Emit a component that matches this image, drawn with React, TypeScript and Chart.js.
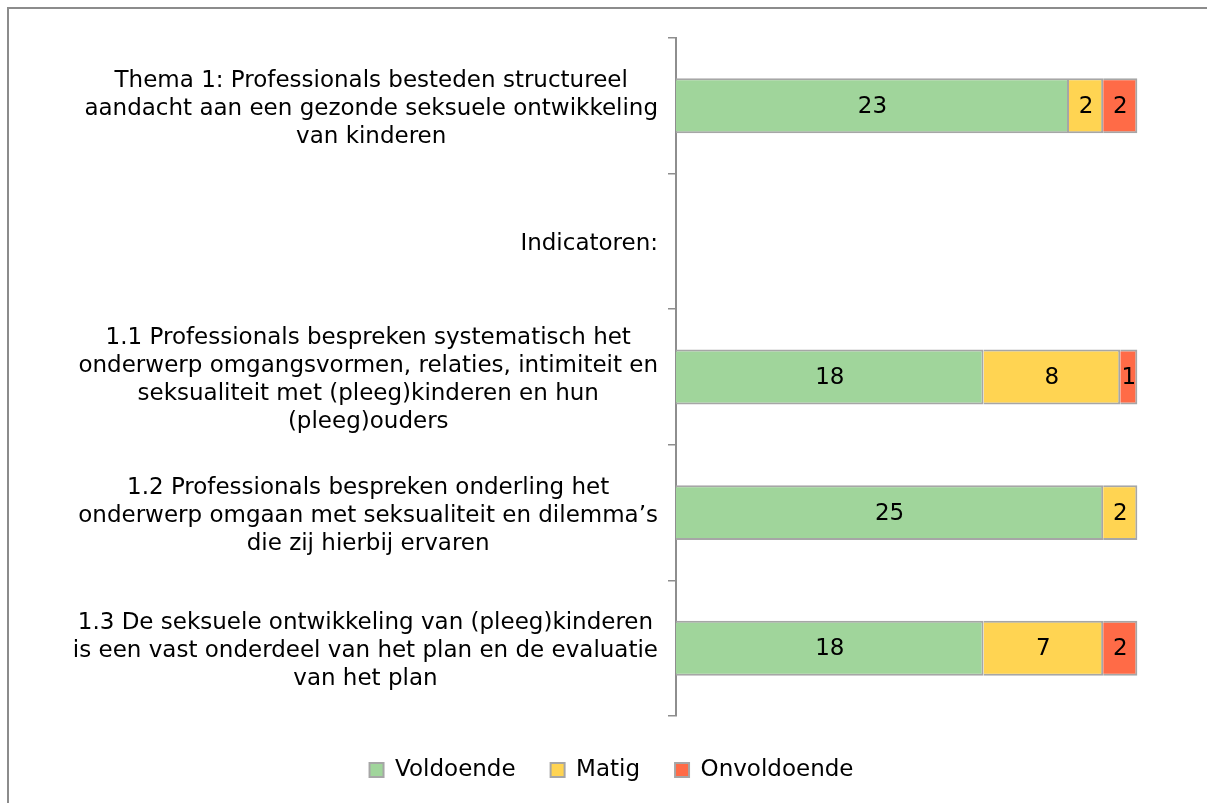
import React, { useEffect, useRef } from "react";
import { Chart, registerables } from "chart.js";

Chart.register(...registerables);

const categories: string[][] = [
  ["Thema 1: Professionals besteden structureel", "aandacht aan een gezonde seksuele ontwikkeling", "van kinderen"],
  ["Indicatoren:"],
  ["1.1 Professionals bespreken systematisch het", "onderwerp omgangsvormen, relaties, intimiteit en", "seksualiteit met (pleeg)kinderen en hun", "(pleeg)ouders"],
  ["1.2 Professionals bespreken onderling het", "onderwerp omgaan met seksualiteit en dilemma’s", "die zij hierbij ervaren"],
  ["1.3 De seksuele ontwikkeling van (pleeg)kinderen", "is een vast onderdeel van het plan en de evaluatie", "van het plan"],
];

const seriesNames = ["Voldoende", "Matig", "Onvoldoende"];
const voldoende = [23, null, 18, 25, 18];
const matig = [2, null, 8, 2, 7];
const onvoldoende = [2, null, 1, null, 2];
const seriesColors = ["#A0D59B", "#FFD452", "#FF6B47"];

const FONT = '"DejaVu Sans", Verdana, sans-serif';
const LABEL_SIZE = 23;
const LINE_H = 28;

const categoryLabelPlugin = {
  id: "categoryLabels",
  afterDraw(chart: any) {
    const ctx = chart.ctx;
    const yScale = chart.scales.y;
    ctx.save();
    ctx.font = `${LABEL_SIZE}px ${FONT}`;
    ctx.fillStyle = "#000";
    ctx.textBaseline = "middle";
    ctx.textAlign = "center";
    const right = chart.chartArea.left - 18;
    categories.forEach((lines, i) => {
      const cy = yScale.getPixelForTick(i) + 3;
      const w = Math.max(...lines.map((l) => ctx.measureText(l).width));
      const cx = right - w / 2;
      lines.forEach((l, j) => {
        ctx.fillText(l, cx, cy + (j - (lines.length - 1) / 2) * LINE_H);
      });
    });
    ctx.restore();
  },
};

const valueLabelPlugin = {
  id: "valueLabels",
  afterDatasetsDraw(chart: any) {
    const ctx = chart.ctx;
    ctx.save();
    ctx.font = `${LABEL_SIZE}px ${FONT}`;
    ctx.fillStyle = "#000";
    ctx.textBaseline = "middle";
    ctx.textAlign = "center";
    chart.data.datasets.forEach((ds: any, di: number) => {
      const meta = chart.getDatasetMeta(di);
      meta.data.forEach((el: any, i: number) => {
        const v = ds.data[i];
        if (v === null || v === undefined || v === 0) return;
        const p = el.getProps(["x", "y", "base"], true);
        ctx.fillText(String(v), (p.x + p.base) / 2, p.y + 1);
      });
    });
    ctx.restore();
  },
};

export default function App() {
  const ref = useRef<HTMLCanvasElement>(null);
  useEffect(() => {
    if (!ref.current) return;
    const chart = new Chart(ref.current, {
      type: "bar",
      data: {
        labels: categories,
        datasets: [voldoende, matig, onvoldoende].map((d, k) => ({
          label: seriesNames[k],
          data: d,
          backgroundColor: seriesColors[k],
          borderColor: "#A6A6A6",
          borderWidth: 2,
          barPercentage: 0.405,
          categoryPercentage: 1,
        })),
      },
      options: {
        indexAxis: "y",
        responsive: false,
        animation: false,
        layout: { padding: { left: 25.4, right: 18.4, top: 29, bottom: 11.5 } },
        scales: {
          x: { stacked: true, min: 0, max: 30, display: false },
          y: {
            stacked: true,
            ticks: { display: false },
            grid: {
              drawOnChartArea: false,
              drawTicks: true,
              tickLength: 8,
              color: "#8E8E8E",
              lineWidth: 1.5,
              offset: true,
            },
            border: { display: true, color: "#8E8E8E", width: 2 },
            afterFit: (s: any) => {
              s.width = 667 - 25.4;
            },
          },
        },
        plugins: {
          tooltip: { enabled: false },
          legend: {
            position: "bottom",
            align: "center",
            title: { display: true, text: "", padding: 0, font: { size: 7.5, lineHeight: 1 } },
            labels: {
              boxWidth: 14,
              boxHeight: 14,
              padding: 35,
              color: "#000",
              font: { family: FONT, size: LABEL_SIZE },
            },
          },
        },
      },
      plugins: [categoryLabelPlugin, valueLabelPlugin],
    });
    return () => chart.destroy();
  }, []);
  return (
    <div
      style={{
        position: "fixed",
        left: 7,
        top: 7,
        width: 1220,
        height: 820,
        border: "2px solid #8C8C8C",
        background: "#fff",
        boxSizing: "border-box",
      }}
    >
      <canvas ref={ref} width={1198} height={794} style={{ display: "block" }} />
    </div>
  );
}
